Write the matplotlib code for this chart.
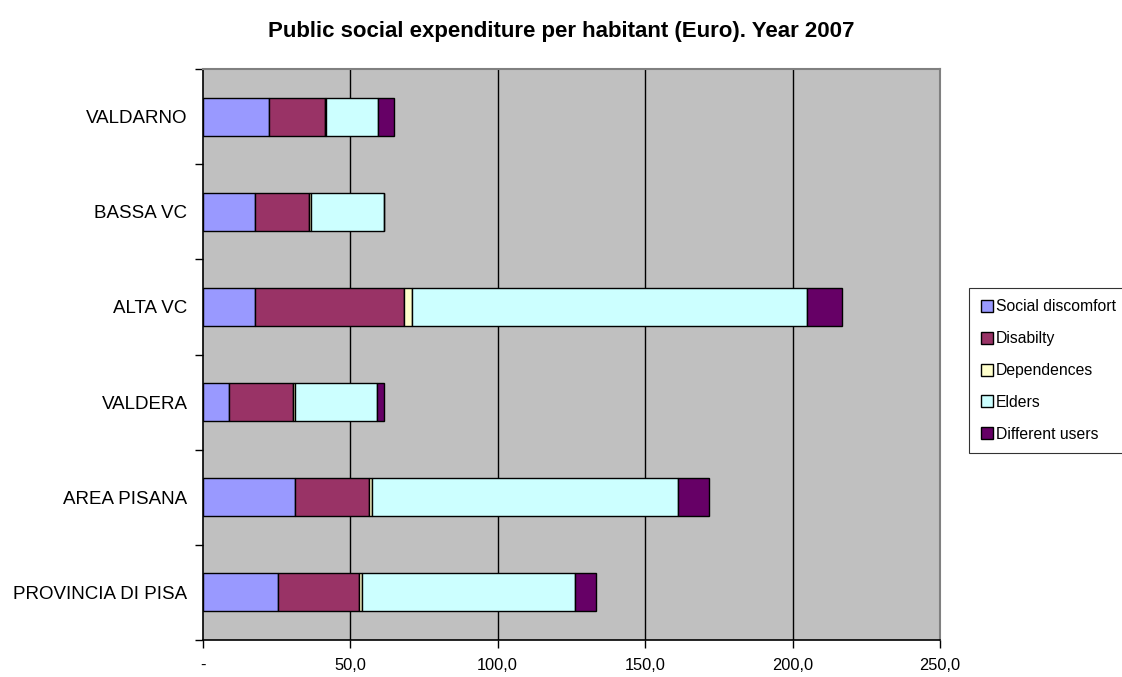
import numpy as np
import matplotlib.pyplot as plt
from matplotlib.ticker import FixedLocator, FuncFormatter

plt.rcParams['font.family'] = ['Liberation Sans', 'DejaVu Sans']

areas = ['PROVINCIA DI PISA', 'AREA PISANA', 'VALDERA', 'ALTA VC', 'BASSA VC', 'VALDARNO']
social = [25.5, 31.3, 8.9, 17.8, 17.8, 22.5]
disability = [27.6, 25.2, 21.6, 50.5, 18.2, 19.0]
dependences = [0.8, 0.8, 0.8, 2.5, 0.6, 0.3]
elders = [72.3, 103.9, 27.7, 134.2, 25.0, 17.5]
different = [7.1, 10.4, 2.6, 11.9, 0.0, 5.4]

series = [
    ('Social discomfort', social, '#9999FF'),
    ('Disabilty', disability, '#993366'),
    ('Dependences', dependences, '#FFFFCC'),
    ('Elders', elders, '#CCFFFF'),
    ('Different users', different, '#660066'),
]

fig = plt.figure(figsize=(11.22, 6.77), dpi=100)
ax = fig.add_axes([0.1807, 0.0547, 0.8378 - 0.1807, 0.898 - 0.0547])
ax.set_facecolor('#C0C0C0')

y = np.arange(len(areas))
left = np.zeros(len(areas))
for name, vals, col in series:
    vals = np.array(vals)
    ax.barh(y, vals, left=left, height=0.4, color=col, edgecolor='black',
            linewidth=1.0, label=name, zorder=3)
    left += vals

ax.set_xlim(0, 250)
ax.set_ylim(-0.5, len(areas) - 0.5)
ax.set_xticks([0, 50, 100, 150, 200, 250])
ax.xaxis.set_major_formatter(FuncFormatter(lambda v, p: '-' if v == 0 else f'{v:.1f}'.replace('.', ',')))
for xv in [50, 100, 150, 200]:
    ax.axvline(xv, color='black', linewidth=1.0, zorder=1)

ax.set_yticks(y)
ax.set_yticklabels(areas, fontsize=13.5)
ax.tick_params(axis='y', which='major', length=0, pad=11)
ax.yaxis.set_minor_locator(FixedLocator(np.arange(-0.5, len(areas), 1.0)))
ax.tick_params(axis='y', which='minor', length=6, width=1, direction='out')
ax.tick_params(axis='x', length=6, width=1, direction='out', labelsize=11.8, pad=7)

for s in ['top', 'right']:
    ax.spines[s].set_color('#808080')
    ax.spines[s].set_linewidth(1.5)
for s in ['left', 'bottom']:
    ax.spines[s].set_color('black')
    ax.spines[s].set_linewidth(1.2)

fig.text(0.5, 0.953, 'Public social expenditure per habitant (Euro). Year 2007',
         ha='center', va='center', fontsize=16, fontweight='bold')

leg = fig.legend(loc='center left', bbox_to_anchor=(0.8636, 0.4527), fontsize=11.3,
                 frameon=True, fancybox=False, edgecolor='black', handlelength=0.8,
                 handleheight=0.8, handletextpad=0.15, labelspacing=1.07,
                 borderpad=0.75, borderaxespad=0)
leg.get_frame().set_linewidth(0.8)

fig.savefig('out.png', dpi=100)
